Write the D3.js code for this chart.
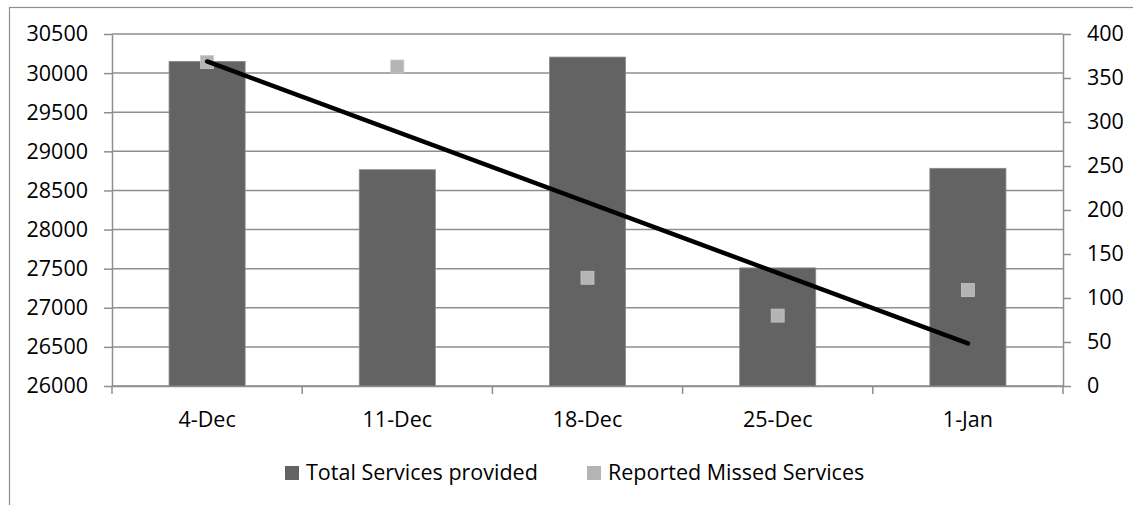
<!DOCTYPE html>
<html>
<head>
<meta charset="utf-8">
<script src="https://cdn.jsdelivr.net/npm/d3@7"></script>
<style>
    body { margin: 0; background: #fff; }
    svg text { font-family: "Open Sans", sans-serif; font-size: 21.5px; fill: #000; }
</style>
</head>
<body>
<svg id="chart" width="1133" height="505"></svg>
<script>
var categories = ["4-Dec", "11-Dec", "18-Dec", "25-Dec", "1-Jan"];
var totalServices = [30150, 28765, 30205, 27510, 28783];
var missedServices = [368, 363, 123, 80, 109];
var leftTicks = [26000, 26500, 27000, 27500, 28000, 28500, 29000, 29500, 30000, 30500];
var rightTicks = [0, 50, 100, 150, 200, 250, 300, 350, 400];
var legendLabels = ["Total Services provided", "Reported Missed Services"];

var svg = d3.select("#chart"),
    plotLeft = 112, plotRight = 1063, plotTop = 34, plotBottom = 386;

var gridColor = "#8e8e8e",
    barColor = "#636363",
    markColor = "#b4b4b4";

// outer chart frame (runs off the picture on right and bottom)
svg.append("rect")
    .attr("x", 9.5).attr("y", 7.5)
    .attr("width", 1140).attr("height", 510)
    .attr("fill", "none")
    .attr("stroke", gridColor)
    .attr("stroke-width", 1.2);

var x = d3.scaleBand()
    .domain(categories)
    .range([plotLeft, plotRight])
    .paddingInner(0.6)
    .paddingOuter(0.3);

var yLeft = d3.scaleLinear().domain([26000, 30500]).range([plotBottom, plotTop]);
var yRight = d3.scaleLinear().domain([0, 400]).range([plotBottom, plotTop]);

// gridlines
svg.append("g")
    .selectAll("line")
    .data(leftTicks)
    .enter().append("line")
    .attr("x1", plotLeft).attr("x2", plotRight)
    .attr("y1", function (d) { return yLeft(d); })
    .attr("y2", function (d) { return yLeft(d); })
    .attr("stroke", gridColor)
    .attr("stroke-width", 1.5);

// axes
var axisLeft = svg.append("g")
    .attr("transform", "translate(" + plotLeft + ",0)")
    .call(d3.axisLeft(yLeft).tickValues(leftTicks).tickFormat(d3.format("d"))
        .tickSize(8).tickSizeOuter(0).tickPadding(16));

var axisRight = svg.append("g")
    .attr("transform", "translate(" + plotRight + ",0)")
    .call(d3.axisRight(yRight).tickValues(rightTicks).tickFormat(d3.format("d"))
        .tickSize(8).tickSizeOuter(0).tickPadding(16));

var axisBottom = svg.append("g")
    .attr("transform", "translate(0," + plotBottom + ")")
    .call(d3.axisBottom(x).tickSize(0).tickSizeOuter(0).tickPadding(25.5));

[axisLeft, axisRight, axisBottom].forEach(function (g) {
    g.selectAll("path.domain").attr("stroke", gridColor).attr("stroke-width", 1.5);
    g.selectAll(".tick line").attr("stroke", gridColor).attr("stroke-width", 1.5);
    g.selectAll("text")
        .style("font-family", "'Open Sans', sans-serif")
        .style("font-size", "21.5px")
        .attr("fill", "#000");
});

// category tick marks sit between the bands
var step = x.step();
svg.append("g")
    .selectAll("line")
    .data(d3.range(categories.length + 1))
    .enter().append("line")
    .attr("x1", function (i) { return plotLeft + i * step; })
    .attr("x2", function (i) { return plotLeft + i * step; })
    .attr("y1", plotBottom).attr("y2", plotBottom + 8)
    .attr("stroke", gridColor)
    .attr("stroke-width", 1.5);

// bars
svg.append("g")
    .selectAll("rect")
    .data(totalServices)
    .enter().append("rect")
    .attr("x", function (d, i) { return x(categories[i]); })
    .attr("y", function (d) { return yLeft(d); })
    .attr("width", x.bandwidth())
    .attr("height", function (d) { return plotBottom - yLeft(d); })
    .attr("fill", barColor)
    .attr("stroke", "#8a8a8a")
    .attr("stroke-width", 0.8);

// missed services markers (right axis)
var mk = 13;
svg.append("g")
    .selectAll("rect")
    .data(missedServices)
    .enter().append("rect")
    .attr("x", function (d, i) { return x(categories[i]) + x.bandwidth() / 2 - mk / 2; })
    .attr("y", function (d) { return yRight(d) - mk / 2; })
    .attr("width", mk)
    .attr("height", mk)
    .attr("fill", markColor)
    .attr("stroke", "#c4c4c4")
    .attr("stroke-width", 0.8);

// linear trendline of the missed services
var xs = d3.range(1, missedServices.length + 1);
var mx = d3.mean(xs), my = d3.mean(missedServices);
var slope = d3.sum(xs, function (v, i) { return (v - mx) * (missedServices[i] - my); }) /
    d3.sum(xs, function (v) { return (v - mx) * (v - mx); });
var trend = xs.map(function (v, i) {
    return [x(categories[i]) + x.bandwidth() / 2, yRight(my + slope * (v - mx))];
});
var ends = [trend[0], trend[trend.length - 1]];

svg.append("path")
    .datum(ends)
    .attr("d", d3.line())
    .attr("fill", "none")
    .attr("stroke", "#000")
    .attr("stroke-width", 4.5)
    .attr("stroke-linecap", "round");

// legend
var legendX = [285, 587];
var legend = svg.append("g")
    .selectAll("g")
    .data(legendLabels)
    .enter().append("g")
    .attr("transform", function (d, i) { return "translate(" + legendX[i] + ",466)"; });

legend.append("rect")
    .attr("width", 14).attr("height", 14)
    .attr("fill", function (d, i) { return i === 0 ? barColor : markColor; });

legend.append("text")
    .attr("x", 21)
    .attr("y", 14)
    .text(function (d) { return d; });
</script>
</body>
</html>
